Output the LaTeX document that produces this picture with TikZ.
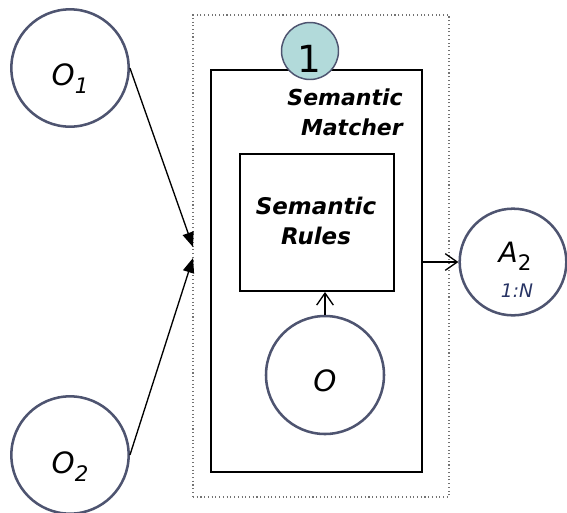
\documentclass[tikz,border=0pt]{standalone}
\usepackage{fontspec}
\setmainfont{DejaVu Sans}
\usetikzlibrary{arrows.meta}
\definecolor{ringcol}{RGB}{78,84,112}
\definecolor{badgefill}{RGB}{178,218,218}
\definecolor{notecol}{RGB}{40,52,100}
\tikzset{
  ring/.style={circle, draw=ringcol, line width=1.9pt, inner sep=0pt, fill=white},
  frame/.style={draw=black, line width=1.4pt, inner sep=0pt},
  outerframe/.style={draw=black!55, dotted, line width=0.8pt, inner sep=0pt},
  caption/.style={font=\fontsize{16.5}{22.5}\selectfont\bfseries\itshape, inner sep=0pt},
  symbol/.style={font=\fontsize{22}{22}\selectfont\itshape, inner sep=0pt, anchor=base},
  feed/.style={line width=1pt, -{Triangle[length=11pt,width=8.5pt]}},
  link/.style={line width=1pt, -{Straight Barb[length=9pt,width=12.5pt]}},
}
\newcommand{\lowidx}[1]{\raisebox{-6pt}{\fontsize{16}{16}\selectfont #1}}
\begin{document}
\begin{tikzpicture}[x=0.75pt,y=-0.75pt]
\useasboundingbox (0,0) rectangle (567,512);

% outer dotted container and the matcher frame inside it
\node[outerframe, minimum width=192pt, minimum height=361.5pt] (outer) at (321,256) {};
\node[frame, minimum width=158.25pt, minimum height=301.5pt] (inner) at (316.5,271) {};

% rules box
\node[frame, minimum width=115.5pt, minimum height=102.75pt] (rules) at (317,222.5) {};

% numbered badge on the frame edge
\node[circle, draw=ringcol, line width=1.1pt, fill=badgefill, minimum size=42.75pt, inner sep=0pt] (badge) at (310,51) {};
\node[font=\fontsize{28}{28}\selectfont, inner sep=0pt, anchor=base] (badgenum) at (309,72) {1};

% box captions (base anchor sits on the last line)
\node[caption, anchor=base east, align=right] (mlabel) at (403,135) {Semantic\\Matcher};
\node[caption, font=\fontsize{17.2}{22.5}\selectfont\bfseries\itshape, align=center, anchor=base] (rlabel) at (316,244) {Semantic\\Rules};

% ontologies
\node[ring, minimum size=88pt] (o1) at (70,68) {};
\node[symbol] (o1t) at (70,85) {O\lowidx{1}};
\node[ring, minimum size=88pt] (o2) at (70,455) {};
\node[symbol] (o2t) at (70,473) {O\lowidx{2}};
\node[ring, minimum size=88.5pt] (o) at (325,375) {};
\node[symbol] (ot) at (325,391) {O};

% alignment result
\node[ring, minimum size=80pt] (a2) at (513,262) {};
\node[symbol, font=\fontsize{21}{21}\selectfont\itshape] (a2t) at (515,262) {A\lowidx{\upshape 2}};
\node[symbol, font=\fontsize{14}{14}\selectfont\itshape, text=notecol] (card) at (517,297) {1:N};

% connectors
\coordinate (in1) at (193,247);
\coordinate (in2) at (193,258);
\draw[feed] (o1.east) -- (in1);
\draw[feed] (o2.east) -- (in2);
\draw[link] (o.north) -- (o.north |- rules.south);
\draw[link] (inner.east |- a2.west) -- (a2.west);
\end{tikzpicture}
\end{document}
